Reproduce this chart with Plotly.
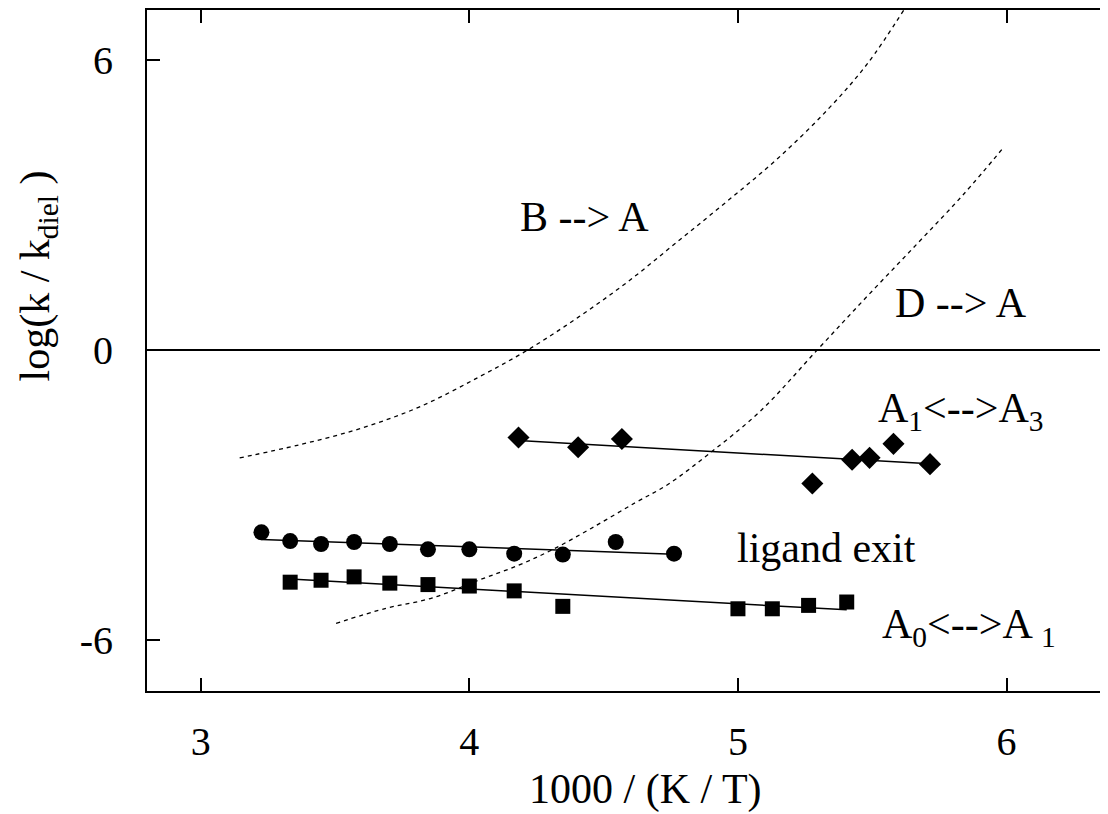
import numpy as np
import plotly.graph_objects as go

# ---- data ----
exit_x = [3.226, 3.333, 3.448, 3.571, 3.704, 3.846, 4.000, 4.167, 4.348, 4.545, 4.762]
exit_y = [-3.77, -3.95, -4.01, -3.97, -4.01, -4.12, -4.12, -4.21, -4.23, -3.97, -4.21]

a01_x = [3.333, 3.448, 3.571, 3.704, 3.846, 4.000, 4.167, 4.348, 5.000, 5.128, 5.263, 5.405]
a01_y = [-4.80, -4.76, -4.69, -4.82, -4.85, -4.88, -4.98, -5.30, -5.35, -5.35, -5.28, -5.21]

a13_x = [4.183, 4.405, 4.568, 5.277, 5.425, 5.490, 5.579, 5.715]
a13_y = [-1.81, -2.01, -1.84, -2.76, -2.27, -2.23, -1.94, -2.36]

b_x = [3.145, 3.367, 3.590, 3.813, 4.035, 4.217, 4.406, 4.592, 4.777, 4.963, 5.148,
       5.334, 5.482, 5.620]
b_y = [-2.23, -1.96, -1.63, -1.18, -0.56, 0.00, 0.68, 1.42, 2.25, 3.09, 3.96,
       4.97, 5.92, 7.05]

d_x = [3.504, 3.690, 3.860, 4.034, 4.183, 4.305, 4.453, 4.617, 4.739, 4.898, 5.084,
       5.295, 5.481, 5.666, 5.840, 5.992]
d_y = [-5.65, -5.34, -5.13, -4.76, -4.45, -4.14, -3.69, -3.16, -2.78, -2.12, -1.26,
       0.00, 1.11, 2.19, 3.22, 4.21]

x_ticks = [3, 4, 5, 6]
x_ticktext = ["3", "4", "5", "6"]
y_ticks = [-6, 0, 6]
y_ticktext = ["-6", "0", "6"]

FONT = "Liberation Serif"
TICK_SIZE = 40
LABEL_SIZE = 42
TITLE_SIZE = 42

fig = go.Figure()

def fit_line(xs, ys):
    xs = np.asarray(xs); ys = np.asarray(ys)
    k, b = np.polyfit(xs, ys, 1)
    xx = np.array([xs.min(), xs.max()])
    return xx, k * xx + b

for xs, ys, sym, sz in [(exit_x, exit_y, "circle", 16),
                        (a01_x, a01_y, "square", 15),
                        (a13_x, a13_y, "diamond", 17)]:
    fx, fy = fit_line(xs, ys)
    fig.add_trace(go.Scatter(x=fx, y=fy, mode="lines",
                             line=dict(color="black", width=1.5), showlegend=False))
    fig.add_trace(go.Scatter(x=xs, y=ys, mode="markers",
                             marker=dict(symbol=sym, size=sz, color="black"),
                             showlegend=False))

for xs, ys in [(b_x, b_y), (d_x, d_y)]:
    fig.add_trace(go.Scatter(x=xs, y=ys, mode="lines",
                             line=dict(color="black", width=1.3, dash="4px,4px", shape="spline",
                                       smoothing=1.0),
                             showlegend=False))

labels = [
    (4.43, 2.74, "B --&gt; A"),
    (5.83, 0.97, "D --&gt; A"),
    (5.83, -1.26, "A<sub>1</sub>&lt;--&gt;A<sub>3</sub>"),
    (5.33, -4.10, "ligand exit"),
    (5.86, -5.73, "A<sub>0</sub>&lt;--&gt;A <sub>1</sub>"),
]
for x, y, t in labels:
    fig.add_annotation(x=x, y=y, text=t, showarrow=False, xanchor="center", yanchor="middle",
                       font=dict(family=FONT, size=LABEL_SIZE, color="black"))

fig.add_annotation(x=0.515, y=-0.145, xref="paper", yref="paper",
                   xanchor="center", yanchor="middle",
                   text="1000 / (K / T)", showarrow=False,
                   font=dict(family=FONT, size=TITLE_SIZE, color="black"))
fig.add_annotation(x=-0.1125, y=0.609, xref="paper", yref="paper",
                   xanchor="center", yanchor="middle",
                   text="log(k / k<sub>diel</sub> )", textangle=-90, showarrow=False,
                   font=dict(family=FONT, size=TITLE_SIZE, color="black"))

fig.update_xaxes(range=[2.8, 6.4], tickvals=x_ticks, ticktext=x_ticktext,
                 ticks="inside", ticklen=13,
                 tickwidth=1.5, tickcolor="black", showline=True, linecolor="black",
                 linewidth=2, mirror="ticks", showgrid=False, zeroline=False,
                 tickfont=dict(family=FONT, size=TICK_SIZE, color="black"),
                 ticklabelstandoff=14)
fig.update_yaxes(range=[-7.05, 7.03], tickvals=y_ticks, ticktext=y_ticktext,
                 ticks="inside", ticklen=13,
                 tickwidth=1.5, tickcolor="black", showline=True, linecolor="black",
                 linewidth=2, mirror="ticks", showgrid=False, zeroline=True,
                 zerolinecolor="black", zerolinewidth=1.5,
                 tickfont=dict(family=FONT, size=TICK_SIZE, color="black"),
                 ticklabelstandoff=24)

fig.update_layout(width=1108, height=806, paper_bgcolor="white", plot_bgcolor="white",
                  margin=dict(l=139, r=0, t=0, b=123), showlegend=False)

fig.write_html("out.html")
